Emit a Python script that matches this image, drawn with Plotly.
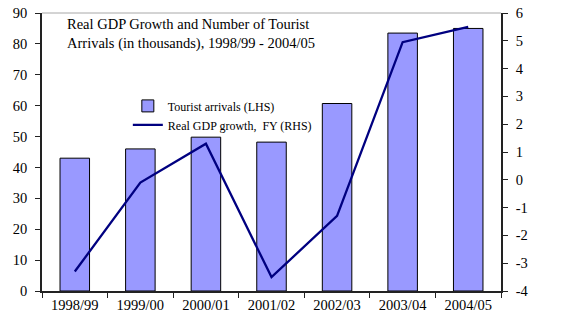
import plotly.graph_objects as go

years = ["1998/99", "1999/00", "2000/01", "2001/02", "2002/03", "2003/04", "2004/05"]
tourist_arrivals = [43.0, 46.0, 49.8, 48.2, 60.7, 83.5, 85.0]
gdp_growth = [-3.3, -0.1, 1.3, -3.5, -1.3, 4.95, 5.5]
lhs_ticks = [0, 10, 20, 30, 40, 50, 60, 70, 80, 90]
rhs_ticks = [-4, -3, -2, -1, 0, 1, 2, 3, 4, 5, 6]
title_text = "Real GDP Growth and Number of Tourist<br>Arrivals (in thousands), 1998/99 - 2004/05"

font_family = "Liberation Serif, Times New Roman, serif"

fig = go.Figure()
fig.add_trace(go.Bar(
    x=years, y=tourist_arrivals, name="Tourist arrivals (LHS)",
    marker=dict(color="#9999FF", line=dict(color="#000000", width=1)),
    width=0.45, yaxis="y",
))
fig.add_trace(go.Scatter(
    x=years, y=gdp_growth, name="Real GDP growth,  FY (RHS)",
    mode="lines", line=dict(color="#000080", width=2.3), yaxis="y2",
))

axis_common = dict(
    showgrid=False, zeroline=False, showline=True, linecolor="#222222", linewidth=1.5,
    ticks="outside", ticklen=5, tickcolor="#222222", automargin=False,
    tickfont=dict(family=font_family, size=14.5, color="#000000"),
)

fig.update_layout(
    width=580, height=317,
    margin=dict(l=42, r=79, t=13, b=26),
    paper_bgcolor="white", plot_bgcolor="white",
    font=dict(family=font_family, size=14, color="#000000"),
    xaxis=dict(**axis_common, tickson="boundaries", range=[-0.5, 6.5]),
    yaxis=dict(**axis_common, range=[0, 90], tickvals=lhs_ticks,
               ticktext=[str(v) for v in lhs_ticks], ticklabelstandoff=5),
    yaxis2=dict(**axis_common, range=[-4, 6], overlaying="y", side="right",
                tickvals=rhs_ticks, ticktext=[str(v) for v in rhs_ticks],
                ticklabelstandoff=5),
    legend=dict(x=0.187, y=0.718, xanchor="left", yanchor="top",
                bgcolor="rgba(0,0,0,0)",
                font=dict(family=font_family, size=12, color="#000000"),
                itemwidth=30, borderwidth=0, tracegroupgap=0),
    showlegend=True,
)

fig.add_shape(type="line", xref="paper", yref="paper", x0=0, x1=1, y0=1, y1=1,
              line=dict(color="#A8A8A8", width=1))

fig.add_annotation(
    xref="paper", yref="paper", x=0.05, y=(291 - 33.5) / 278,
    xanchor="left", yanchor="middle",
    text=title_text, showarrow=False, align="left",
    font=dict(family=font_family, size=14.5, color="#000000"),
)

fig.write_html("out.html", config={"displayModeBar": False},
               post_script="document.body.style.margin='0px';")
